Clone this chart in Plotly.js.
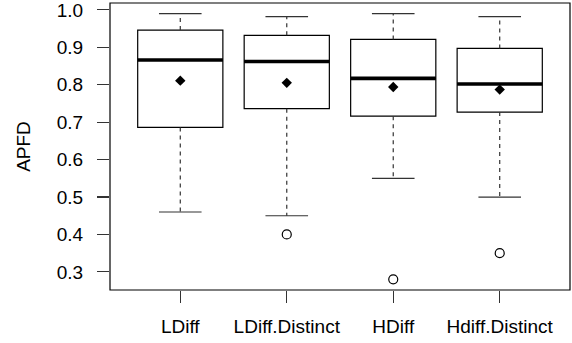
<!DOCTYPE html>
<html>
<head>
<meta charset="utf-8">
<script src="https://cdn.plot.ly/plotly-3.0.1.min.js"></script>
<style>
  html, body { margin: 0; padding: 0; background: #fff; }
  #chart { width: 572px; height: 343px; }
</style>
</head>
<body>
<div id="chart"></div>
<script>
// APFD distributions per prioritisation technique
const techniques = ['LDiff', 'LDiff.Distinct', 'HDiff', 'Hdiff.Distinct'];
const lowerWhisker = [0.46, 0.45, 0.55, 0.50];
const q1Values     = [0.686, 0.736, 0.716, 0.727];
const medianValues = [0.866, 0.862, 0.817, 0.802];
const q3Values     = [0.946, 0.932, 0.921, 0.897];
const upperWhisker = [0.99, 0.982, 0.99, 0.982];
const meanValues   = [0.811, 0.805, 0.794, 0.787];
const outlierValues = [[], [0.40], [0.28], [0.35]];
const yTicks = [0.3, 0.4, 0.5, 0.6, 0.7, 0.8, 0.9, 1.0];

const pos = techniques.map((_, i) => i + 1);
const BOX_W = 0.8, CAP_W = 0.4;

// boxes (no whiskers here, they are drawn dashed below)
const boxTrace = {
  type: 'box',
  x: pos,
  q1: q1Values,
  median: medianValues,
  q3: q3Values,
  lowerfence: q1Values,
  upperfence: q3Values,
  width: BOX_W,
  whiskerwidth: 0,
  boxpoints: false,
  fillcolor: 'white',
  line: { color: 'black', width: 1.2 },
  hoverinfo: 'skip'
};

// dashed whiskers
const wx = [], wy = [];
pos.forEach((p, i) => {
  wx.push(p, p, null, p, p, null);
  wy.push(q3Values[i], upperWhisker[i], null, q1Values[i], lowerWhisker[i], null);
});
const whiskerTrace = {
  type: 'scatter', mode: 'lines', x: wx, y: wy,
  line: { color: '#333', width: 1.2, dash: '4px,4px' },
  hoverinfo: 'skip'
};

// whisker caps
const cx = [], cy = [];
pos.forEach((p, i) => {
  cx.push(p - CAP_W / 2, p + CAP_W / 2, null, p - CAP_W / 2, p + CAP_W / 2, null);
  cy.push(upperWhisker[i], upperWhisker[i], null, lowerWhisker[i], lowerWhisker[i], null);
});
const capTrace = {
  type: 'scatter', mode: 'lines', x: cx, y: cy,
  line: { color: '#333', width: 1.2 },
  hoverinfo: 'skip'
};

// thick median bars
const mx = [], my = [];
pos.forEach((p, i) => {
  mx.push(p - BOX_W / 2, p + BOX_W / 2, null);
  my.push(medianValues[i], medianValues[i], null);
});
const medianTrace = {
  type: 'scatter', mode: 'lines', x: mx, y: my,
  line: { color: 'black', width: 3.6 },
  hoverinfo: 'skip'
};

// means
const meanTrace = {
  type: 'scatter', mode: 'markers', x: pos, y: meanValues,
  marker: { symbol: 'diamond', size: 8, color: 'black' },
  hoverinfo: 'skip'
};

// outliers
const ox = [], oy = [];
outlierValues.forEach((vals, i) => vals.forEach(v => { ox.push(pos[i]); oy.push(v); }));
const outlierTrace = {
  type: 'scatter', mode: 'markers', x: ox, y: oy,
  marker: { symbol: 'circle-open', size: 9, color: 'black', line: { width: 1.2 } },
  hoverinfo: 'skip'
};

const font = { family: 'Liberation Sans, Arial, Helvetica, sans-serif', size: 19, color: 'black' };

const layout = {
  width: 572, height: 343,
  margin: { l: 110, r: 2, t: 3, b: 53 },
  paper_bgcolor: 'white', plot_bgcolor: 'white',
  showlegend: false,
  font: font,
  xaxis: {
    range: [0.34, 4.66],
    tickvals: pos, ticktext: techniques,
    ticks: 'outside', ticklen: 12, tickwidth: 1.2, tickcolor: '#333',
    showgrid: false, zeroline: false, showline: false,
    tickfont: font, ticklabelstandoff: 7
  },
  yaxis: {
    range: [0.2516, 1.0184],
    tickvals: yTicks, ticktext: yTicks.map(v => v.toFixed(1)),
    ticks: 'outside', ticklen: 12, tickwidth: 1.2, tickcolor: '#333',
    showgrid: false, zeroline: false, showline: false,
    tickfont: font, ticklabelstandoff: 10, ticklabeloverflow: 'allow',
    title: { text: 'APFD', font: font, standoff: 21 }
  },
  shapes: [{
    type: 'rect', xref: 'paper', yref: 'paper', x0: 0, x1: 1, y0: 0, y1: 1,
    line: { color: 'black', width: 1.2 }, fillcolor: 'rgba(0,0,0,0)'
  }]
};

Plotly.newPlot('chart',
  [boxTrace, whiskerTrace, capTrace, medianTrace, meanTrace, outlierTrace],
  layout, { staticPlot: true, displayModeBar: false });
</script>
</body>
</html>
